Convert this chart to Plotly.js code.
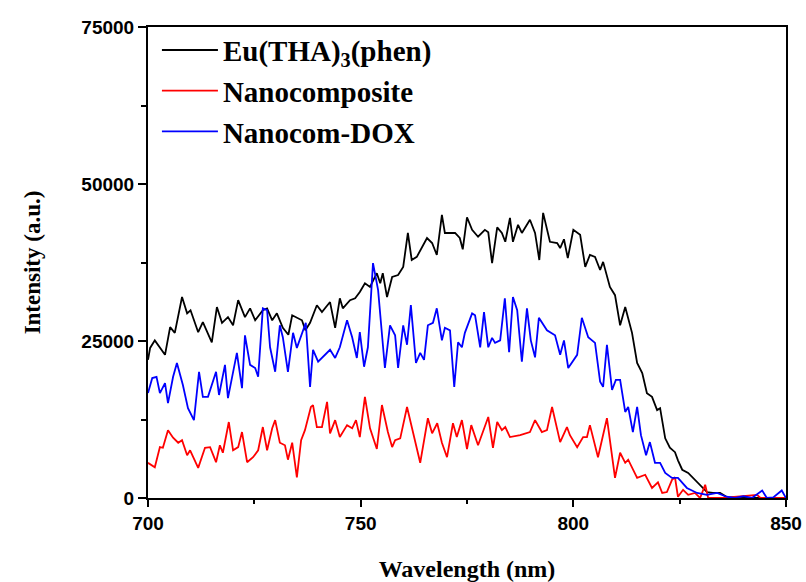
<!DOCTYPE html>
<html>
<head>
<meta charset="utf-8">
<script src="https://cdn.plot.ly/plotly-3.0.1.min.js"></script>
<style>html,body{margin:0;padding:0;background:#fff;}#chart{width:806px;height:582px;}</style>
</head>
<body>
<div id="chart"></div>
<script>
var seriesNames = ["Eu(THA)<sub>3</sub>(phen)", "Nanocomposite", "Nanocom-DOX"];

var euX = [700,700.5,701.6,704,705.2,706.3,708,709.2,710,711.8,712.9,715,716.2,717.4,718.8,720,721.2,722.8,724,725.2,727,728,729.2,730.3,731.7,733,733.9,735,736.2,737,738.1,739.7,740.9,742.8,744,745.1,745.8,747.5,748.7,749.8,751,752.2,753.8,754.6,755.2,756.2,757.4,758.8,760,761.1,762,763.2,765.6,766.8,767.9,769.1,769.8,772.2,773.3,774,775,776.2,777.6,779.2,780,780.9,782.1,783.2,784,785.1,785.8,787,787.9,789.8,791,792,792.9,794.5,796.2,796.9,797.8,798.7,800,801.6,802.8,803.9,805.1,806.3,807,808.6,809.8,811,812.2,813.8,815,816.2,817.3,818.5,819.7,820.4,821.6,822.7,823.9,824.6,825.6,827,829.1,830.3,831.4,832.8,834.5,836.1,840,845,850];
var euY = [22000,23900,25100,22800,27200,26300,32000,29400,29900,26400,28000,24800,30400,27900,28800,27500,31500,28800,30200,28300,29900,30200,28300,29400,27100,26000,29100,28700,28300,26700,27900,30700,29600,31200,27100,31800,30200,31500,31800,32800,34200,33600,35800,34200,35800,32000,35200,35500,36800,42200,37900,38400,41400,40600,38700,45100,42200,42200,41400,39600,44700,42700,41600,42700,42300,37400,43100,42200,40800,44600,40800,43500,42200,44300,42200,37900,45400,40800,40600,39800,41200,38200,42700,41900,36800,38700,38400,36300,37600,33600,32300,27500,30400,26300,21500,19900,16700,16100,14000,14300,9500,8000,7300,6000,4500,4000,2500,1750,950,800,800,150,0,0,0];

var ncX = [700,701.6,702.8,703.5,704.7,705.9,707.1,708,709.2,709.9,711.8,713.4,714.6,716,716.9,717.6,719,720,721.2,722.1,723.3,724.7,725.9,727,728,729.2,729.9,731,732.2,732.9,733.9,735,736,736.9,738.3,738.8,739.7,740.9,742.1,742.8,744,745.1,746.8,748,748.9,749.8,751,752.2,753.8,755,756.4,757.4,758.1,759.3,760.9,762.3,764,765.8,766.8,768,769.1,770.3,771.7,772.6,773.8,775,776,777.6,780,781.1,782.1,783.2,784,785.1,787.5,789.8,791,792.6,793.8,795,796.9,798.5,799.2,800.9,802.3,803.2,803.9,805.8,807.9,809.8,811,812.2,812.9,815,816.9,818.5,819.9,820.9,822,823.2,823.9,824.6,825.8,827,828.6,829.8,831,831.7,835,843.2,844,850];
var ncY = [5600,4900,8100,8000,10800,9600,8800,9200,6800,7600,4800,8000,8100,5700,8400,7200,12100,7600,8100,10500,5700,6500,7600,11300,7600,11100,12400,8800,8400,6100,8800,3300,9200,10800,14500,14800,11300,11300,15300,10300,12400,9700,11600,11100,12400,9700,16100,11100,7800,14800,10500,8100,9200,9500,14500,10300,5600,12700,10300,11900,8800,6500,11900,9700,12400,7800,11600,8400,12900,8000,12100,10800,11300,9700,10000,10500,12400,10500,10800,14500,8900,11300,10000,8100,9700,9700,11600,6500,12700,3200,7200,5600,6100,3200,3700,1600,2500,800,950,2900,3300,200,1300,500,800,0,2100,0,0,500,0,0];

var doxX = [700,701,702,702.8,704,704.7,705.9,706.8,708.2,709.4,710.8,712,712.9,714.1,716,716.7,718.1,718.8,720.9,722.1,722.8,724,725.2,725.9,727,728,728.7,729.9,731,731.7,732.9,734.1,735,736.4,737.1,738.1,738.8,740,742.8,744,745.1,746.8,748,749.1,749.8,750.8,751.7,752.9,754.1,755.7,756.9,758.1,758.8,760,760.9,761.8,763,764,764.9,765.8,767,767.9,769.1,769.8,771,772,772.9,773.8,774.5,776.2,776.9,778.1,779,780,780.9,781.6,782.8,783.9,784.9,785.8,786.8,787.9,789.1,790,791,791.9,793.8,795.7,796.9,797.8,798.8,800.9,802,803.5,805.1,806.3,807,807.9,809.1,810,811,812.2,812.9,814,815,815.9,817.1,818,819.2,820.4,821.6,823.2,824.6,826.7,829.1,831.4,833.8,836,838,840,842,844.4,845.5,847,849,850];
var doxY = [16700,19100,19300,16700,18300,15100,19300,21500,18000,14300,12400,20100,16100,16100,20100,16400,21200,15900,23100,17500,25900,21200,20700,19300,30200,29900,24000,20100,27500,25600,20100,26300,23900,26700,27900,17700,23600,21700,23600,22300,24000,28300,25600,22300,26400,20900,24000,37400,33100,20700,27500,25900,20700,27500,24400,30700,21500,23100,22000,27500,27900,30200,25100,27100,26700,17700,24800,24000,26300,29400,29100,24000,29600,24000,25500,24700,25100,31800,23200,32000,29900,21700,30200,25100,22400,28700,26700,25900,22800,25100,20700,22800,28700,25600,24700,18500,17700,24400,17200,18800,18800,13700,14500,10500,14500,10000,6800,8900,5600,5600,4000,3200,3200,1600,800,500,800,200,0,300,0,1200,0,100,1200,0];

var xTickVals = [700, 750, 800, 850];
var yTickVals = [0, 25000, 50000, 75000];

var lineW = 1.8;
var traces = [
  {x: euX, y: euY, name: seriesNames[0], type: 'scatter', mode: 'lines', line: {color: '#000000', width: lineW}},
  {x: ncX, y: ncY, name: seriesNames[1], type: 'scatter', mode: 'lines', line: {color: '#ff0000', width: lineW}},
  {x: doxX, y: doxY, name: seriesNames[2], type: 'scatter', mode: 'lines', line: {color: '#0000ff', width: lineW}}
];

var tickFont = {family: 'Liberation Sans, Arial, sans-serif', size: 19, color: '#000', weight: 'bold'};
var titleFontX = {family: 'Liberation Serif, Times New Roman, serif', size: 24, color: '#000', weight: 'bold'};
var titleFontY = {family: 'Liberation Serif, Times New Roman, serif', size: 23, color: '#000', weight: 'bold'};

var layout = {
  width: 806, height: 582,
  margin: {l: 148, r: 20, t: 27, b: 84},
  paper_bgcolor: '#fff', plot_bgcolor: '#fff',
  showlegend: true,
  legend: {
    x: 0.014, y: 1.005, xanchor: 'left', yanchor: 'top',
    bgcolor: 'rgba(0,0,0,0)', borderwidth: 0,
    itemwidth: 56,
    font: {family: 'Liberation Serif, Times New Roman, serif', size: 29, color: '#000', weight: 'bold'}
  },
  xaxis: {
    range: [700, 850], tickvals: xTickVals, ticktext: xTickVals.map(String),
    ticks: 'outside', ticklen: 7, tickwidth: 2, tickcolor: '#000',
    minor: {ticks: 'outside', dtick: 25, tick0: 700, ticklen: 4, tickwidth: 2, tickcolor: '#000'},
    showline: true, linewidth: 2, linecolor: '#000', mirror: true,
    showgrid: false, zeroline: false,
    tickfont: tickFont,
    title: {text: 'Wavelength (nm)', font: titleFontX, standoff: 28}
  },
  yaxis: {
    range: [0, 75000], tickvals: yTickVals, ticktext: yTickVals.map(String),
    ticks: 'outside', ticklen: 8, tickwidth: 2, tickcolor: '#000',
    minor: {ticks: 'outside', dtick: 12500, tick0: 0, ticklen: 5, tickwidth: 2, tickcolor: '#000'},
    showline: true, linewidth: 2, linecolor: '#000', mirror: true,
    showgrid: false, zeroline: false,
    tickfont: tickFont,
    title: {text: 'Intensity (a.u.)', font: titleFontY, standoff: 34}
  }
};

Plotly.newPlot('chart', traces, layout, {displayModeBar: false, staticPlot: true});
</script>
</body>
</html>
